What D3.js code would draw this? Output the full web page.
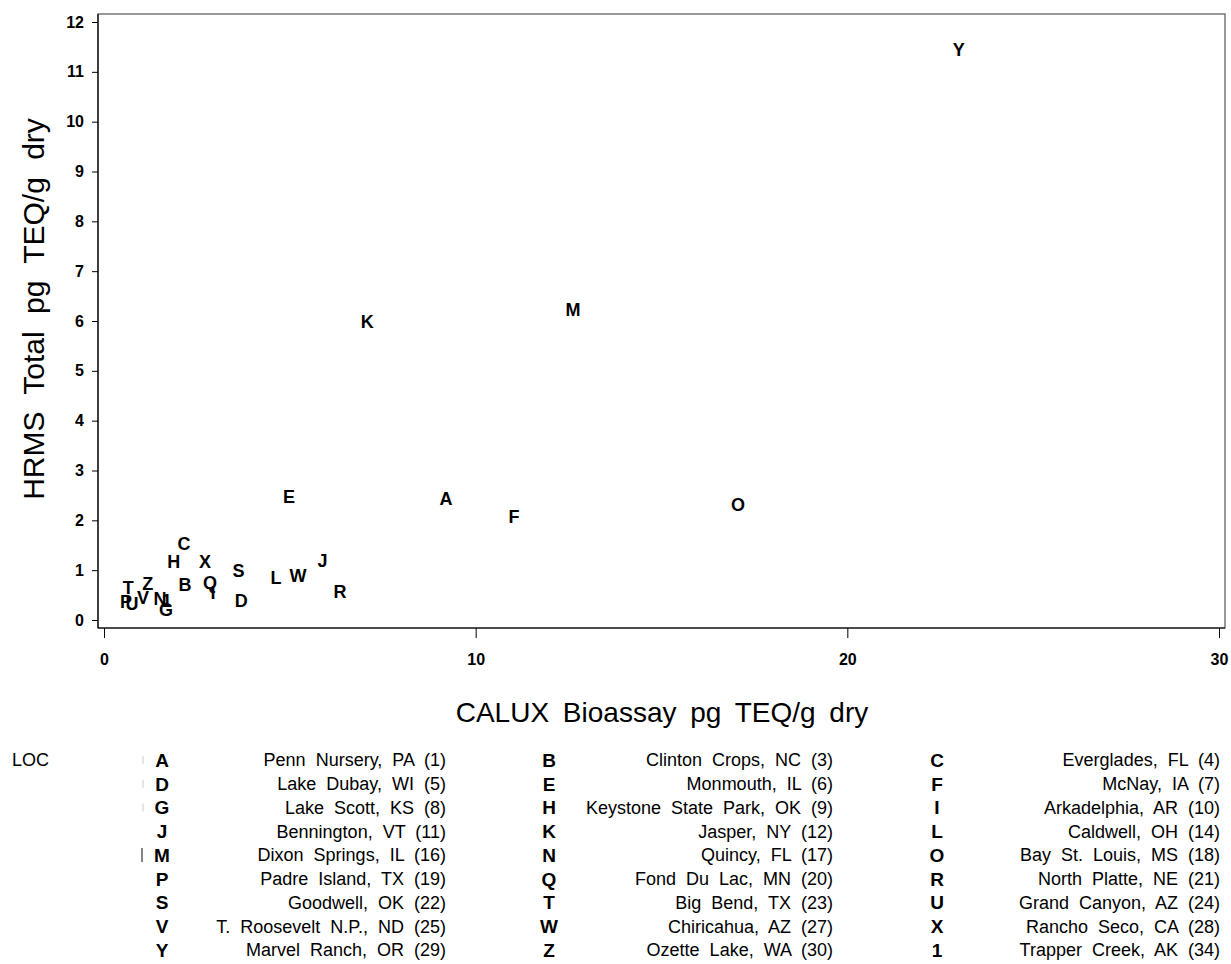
<!DOCTYPE html>
<html>
<head>
<meta charset="utf-8">
<script src="https://cdn.jsdelivr.net/npm/d3@7"></script>
<style>
  body { margin: 0; background: #fff; }
  text { font-family: "Liberation Sans", Arial, sans-serif; fill: #000; }
  .tick text { font-weight: bold; font-size: 16px; }
  .pt { font-weight: bold; font-size: 18px; }
  .leg { font-size: 18px; word-spacing: 5px; }
  .legLetter { font-weight: bold; font-size: 19px; }
  .title { font-size: 28px; word-spacing: 6px; }
  .ytitle { font-size: 30px; word-spacing: 9px; }
</style>
</head>
<body>
<div id="chart"></div>
<script>
// Chart data
var letters = ["A","B","C","D","E","F","G","H","I","J","K","L","M","N",
               "O","P","Q","R","S","T","U","V","W","X","Y","Z","1"];
var calux = [9.20, 2.18, 2.15, 3.69, 4.98, 11.03, 1.67, 1.88, 2.93, 5.88, 7.08, 4.63, 12.62, 1.51,
             17.06, 0.59, 2.85, 6.35, 3.62, 0.65, 0.75, 1.05, 5.22, 2.72, 23.00, 1.18, 1.69];
var hrms = [2.43, 0.72, 1.53, 0.40, 2.47, 2.07, 0.22, 1.17, 0.56, 1.19, 5.98, 0.86, 6.24, 0.44,
            2.31, 0.38, 0.76, 0.57, 1.00, 0.66, 0.34, 0.46, 0.90, 1.17, 11.44, 0.74, 0.40];
var siteNames = ["Penn Nursery, PA (1)", "Clinton Crops, NC (3)", "Everglades, FL (4)",
  "Lake Dubay, WI (5)", "Monmouth, IL (6)", "McNay, IA (7)",
  "Lake Scott, KS (8)", "Keystone State Park, OK (9)", "Arkadelphia, AR (10)",
  "Bennington, VT (11)", "Jasper, NY (12)", "Caldwell, OH (14)",
  "Dixon Springs, IL (16)", "Quincy, FL (17)", "Bay St. Louis, MS (18)",
  "Padre Island, TX (19)", "Fond Du Lac, MN (20)", "North Platte, NE (21)",
  "Goodwell, OK (22)", "Big Bend, TX (23)", "Grand Canyon, AZ (24)",
  "T. Roosevelt N.P., ND (25)", "Chiricahua, AZ (27)", "Rancho Seco, CA (28)",
  "Marvel Ranch, OR (29)", "Ozette Lake, WA (30)", "Trapper Creek, AK (34)"];
var xTicks = [0, 10, 20, 30];
var yTicks = [0, 1, 2, 3, 4, 5, 6, 7, 8, 9, 10, 11, 12];

var svgWidth = 1231;
var svgHeight = 964;

// plot frame
var frame = { left: 98, top: 14, right: 1225, bottom: 628 };

var svg = d3.select("#chart")
  .append("svg")
  .attr("width", svgWidth)
  .attr("height", svgHeight);

var xScale = d3.scaleLinear().domain([0, 30]).range([104, 1219]);
var yScale = d3.scaleLinear().domain([0, 12]).range([620, 22]);

// frame box
svg.append("rect")
  .attr("x", frame.left)
  .attr("y", frame.top)
  .attr("width", frame.right - frame.left)
  .attr("height", frame.bottom - frame.top)
  .attr("fill", "none")
  .attr("stroke", "#555")
  .attr("stroke-width", 1.2);

// y axis
var yAxis = svg.append("g")
  .attr("transform", `translate(${frame.left}, 0)`)
  .call(d3.axisLeft(yScale).tickValues(yTicks).tickSize(6).tickPadding(8));
yAxis.select(".domain").remove();
yAxis.selectAll(".tick line").attr("stroke", "#000");

// x axis
var xAxis = svg.append("g")
  .attr("transform", `translate(0, ${frame.bottom})`)
  .call(d3.axisBottom(xScale).tickValues(xTicks).tickSize(10).tickPadding(16));
xAxis.select(".domain").remove();
xAxis.selectAll(".tick line").attr("stroke", "#000");

// axis lines in black
svg.append("line")
  .attr("x1", frame.left).attr("x2", frame.left)
  .attr("y1", frame.top).attr("y2", frame.bottom)
  .attr("stroke", "#000").attr("stroke-width", 1.2);
svg.append("line")
  .attr("x1", frame.left).attr("x2", frame.right)
  .attr("y1", frame.bottom).attr("y2", frame.bottom)
  .attr("stroke", "#000").attr("stroke-width", 1.2);

// axis titles
svg.append("text")
  .attr("class", "title")
  .attr("text-anchor", "middle")
  .attr("x", 662)
  .attr("y", 722)
  .text("CALUX Bioassay pg TEQ/g dry");

svg.append("text")
  .attr("class", "ytitle")
  .attr("text-anchor", "middle")
  .attr("transform", "translate(44, 309) rotate(-90)")
  .text("HRMS Total pg TEQ/g dry");

// points drawn as letters
svg.append("g")
  .selectAll("text")
  .data(letters)
  .enter()
  .append("text")
  .attr("class", "pt")
  .attr("text-anchor", "middle")
  .attr("x", (d, i) => xScale(calux[i]))
  .attr("y", (d, i) => yScale(hrms[i]))
  .attr("dy", "0.36em")
  .text(d => d);

// legend
var legendTop = 760;
var rowStep = 23.75;
var letterX = [162, 549, 937];
var labelRight = [446, 833, 1220];

svg.append("text")
  .attr("class", "leg")
  .attr("x", 12)
  .attr("y", legendTop)
  .attr("dy", "0.36em")
  .text("LOC");

var legend = svg.append("g");
legend.selectAll(".legLetter")
  .data(letters)
  .enter()
  .append("text")
  .attr("class", "legLetter")
  .attr("text-anchor", "middle")
  .attr("x", (d, i) => letterX[i % 3])
  .attr("y", (d, i) => legendTop + Math.floor(i / 3) * rowStep)
  .attr("dy", "0.36em")
  .text(d => d);

legend.selectAll(".leg")
  .data(siteNames)
  .enter()
  .append("text")
  .attr("class", "leg")
  .attr("text-anchor", "end")
  .attr("x", (d, i) => labelRight[i % 3])
  .attr("y", (d, i) => legendTop + Math.floor(i / 3) * rowStep)
  .attr("dy", "0.36em")
  .text(d => d);

// small stray marks beside the first legend column
legend.append("line")
  .attr("x1", 142).attr("x2", 142)
  .attr("y1", legendTop + 4 * rowStep - 7)
  .attr("y2", legendTop + 4 * rowStep + 7)
  .attr("stroke", "#333").attr("stroke-width", 1.2);
[0, 1, 2].forEach(r => {
  legend.append("line")
    .attr("x1", 143).attr("x2", 143)
    .attr("y1", legendTop + r * rowStep - 4)
    .attr("y2", legendTop + r * rowStep + 4)
    .attr("stroke", "#ccc").attr("stroke-width", 1);
});
</script>
</body>
</html>
